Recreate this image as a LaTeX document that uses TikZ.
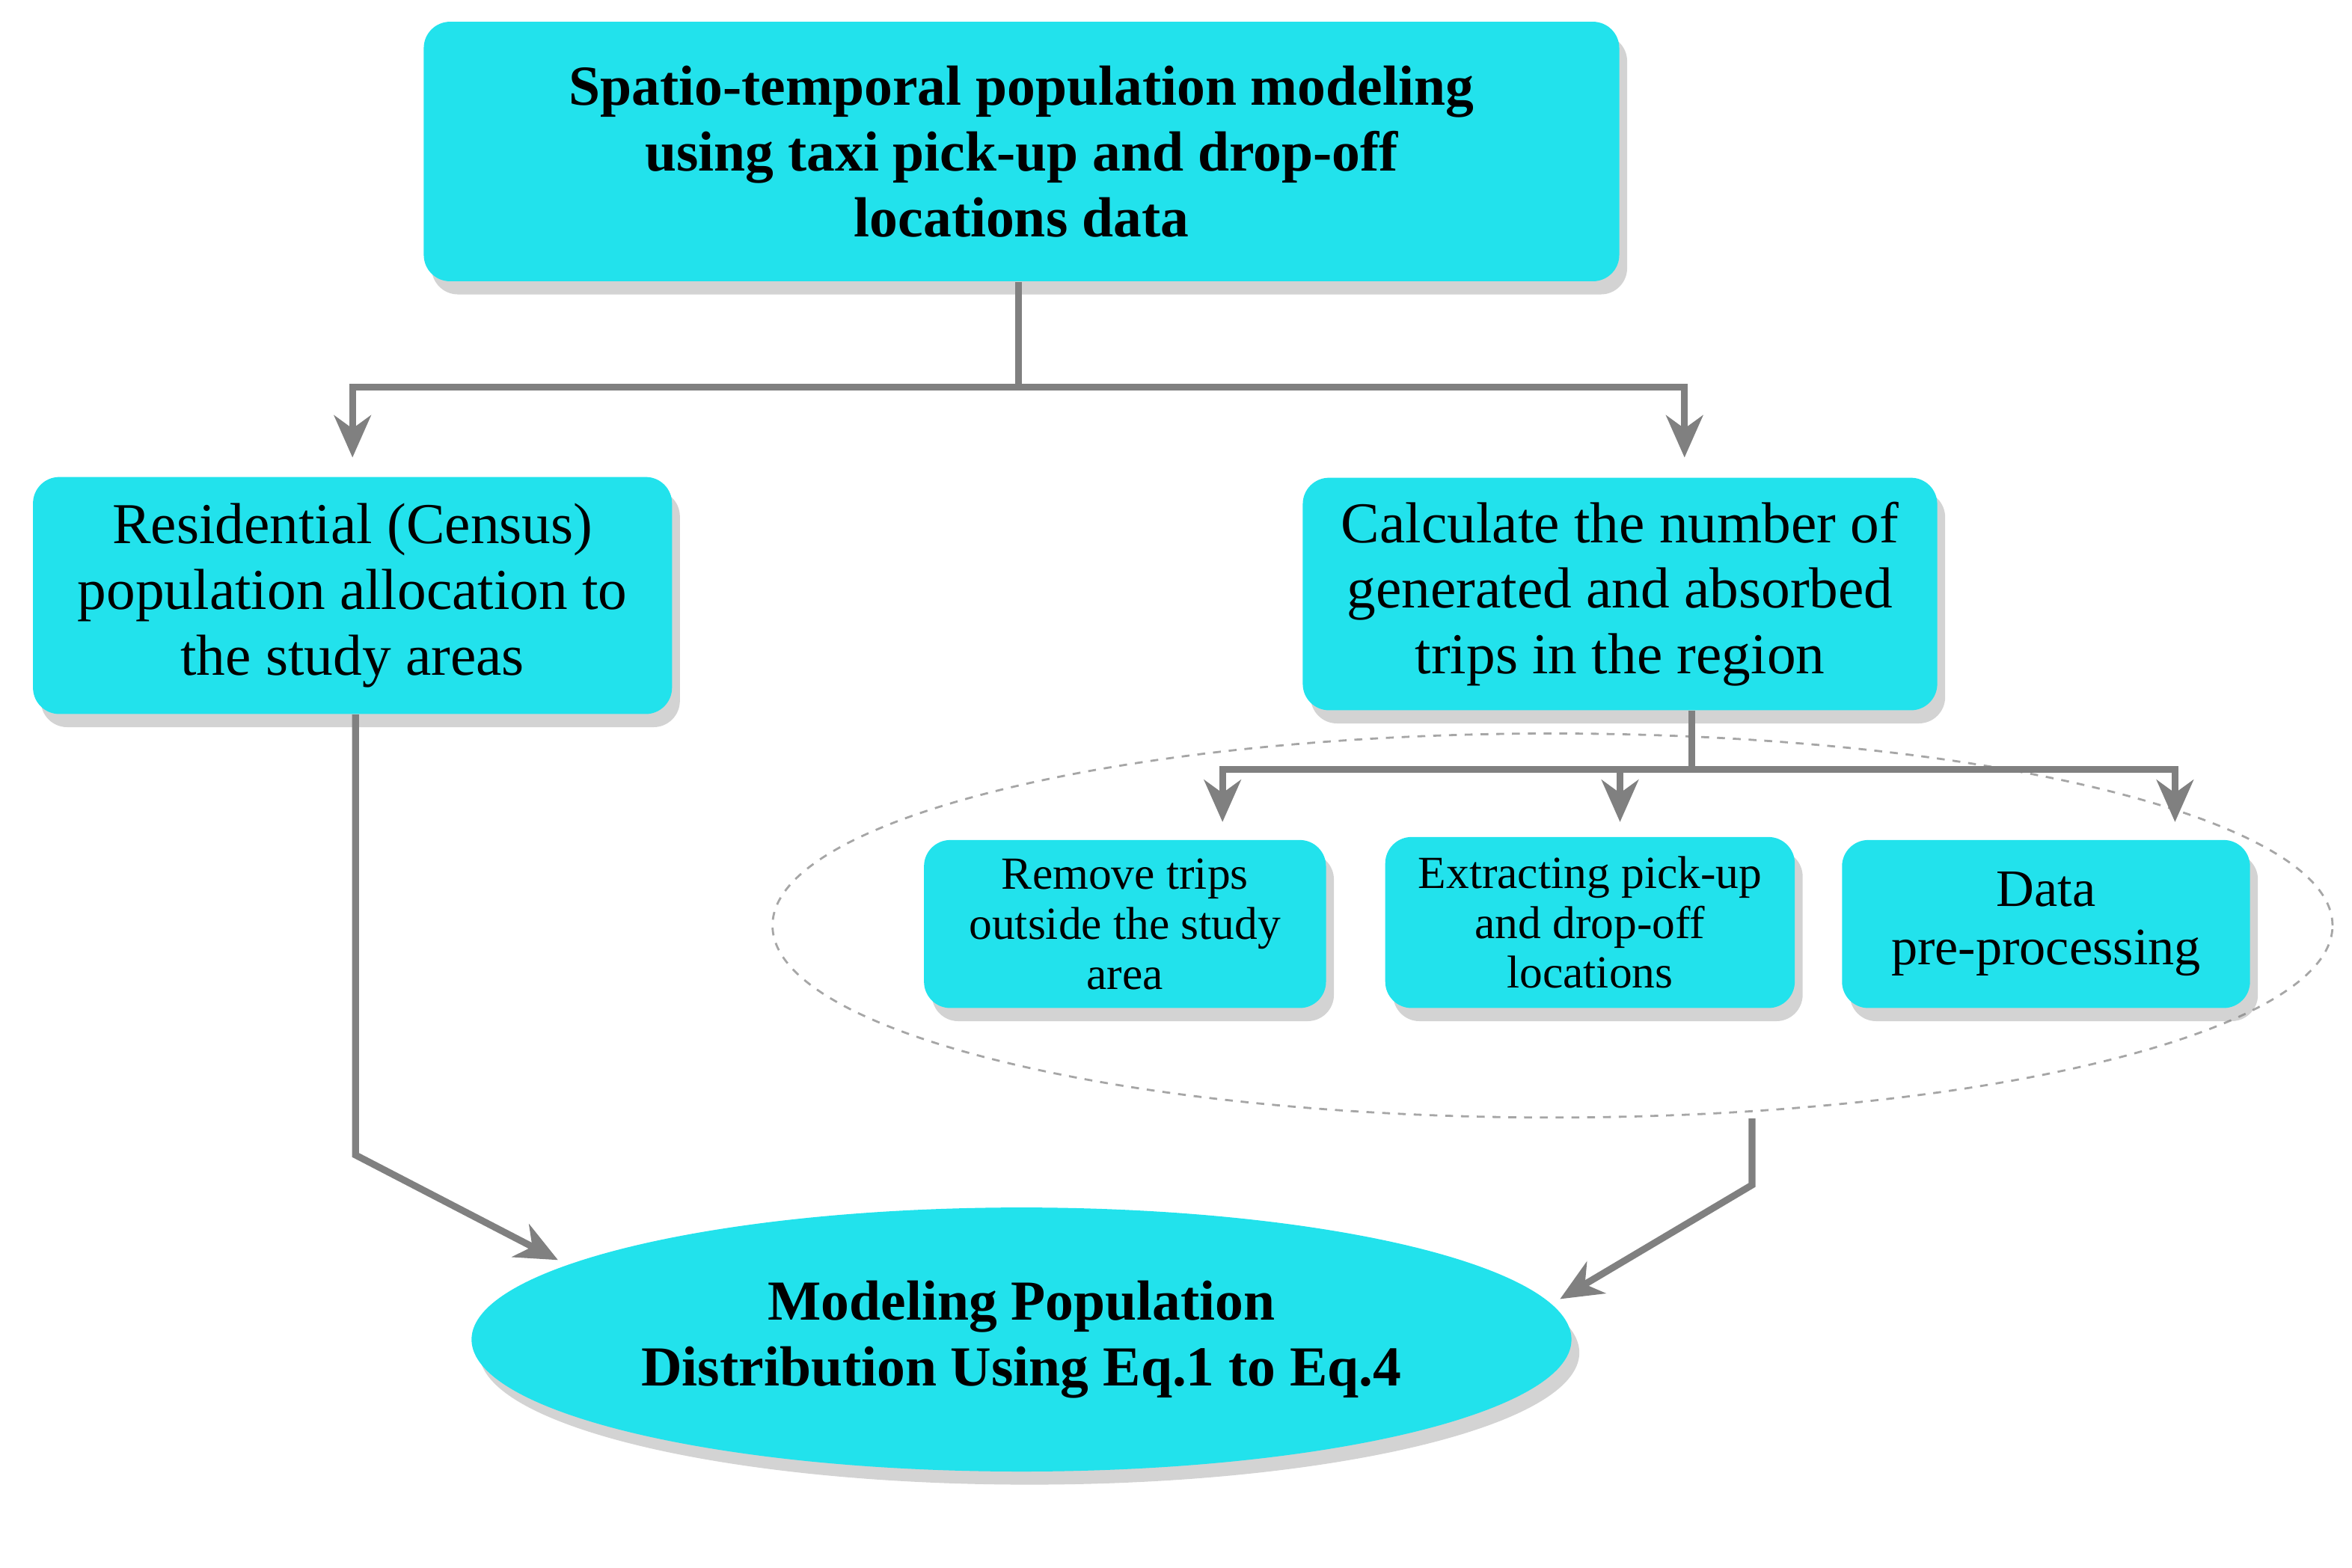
\documentclass[tikz,border=0pt]{standalone}
\usepackage{fontspec}
\setmainfont{Liberation Serif}
\usetikzlibrary{shapes.geometric,shadows,arrows.meta}
\definecolor{boxc}{HTML}{22E2EC}
\definecolor{linec}{HTML}{808080}
\begin{document}
\begin{tikzpicture}[x=0.02005cm,y=-0.02005cm,
  box/.style={draw=none,fill=boxc,rounded corners=10pt,align=center,
    drop shadow={shadow xshift=3pt,shadow yshift=-5pt,opacity=0.35},
    font=\fontsize{22}{25}\selectfont},
  sbox/.style={box,font=\fontsize{17.5}{19}\selectfont},
  conn/.style={draw=linec,line width=2.6pt},
  arr/.style={conn,-{Stealth[length=16pt,width=14pt,inset=5pt]}}]
\useasboundingbox (0,0) rectangle (1568,1045);
\node[box,minimum width=797*0.02005cm,minimum height=173*0.02005cm,font=\fontsize{21.5}{25}\selectfont\bfseries] (top) at (681,101)
  {Spatio-temporal population modeling\\using taxi pick-up and drop-off\\locations data};
\node[box,minimum width=426*0.02005cm,minimum height=158*0.02005cm] (left) at (235,397)
  {Residential (Census)\\population allocation to\\the study areas};
\node[box,minimum width=423*0.02005cm,minimum height=155*0.02005cm] (right) at (1080,396)
  {Calculate the number of\\generated and absorbed\\trips in the region};
\node[draw=gray!70,dashed,thick,ellipse,minimum width=1040*0.02005cm,minimum height=256*0.02005cm] (grp) at (1035,617) {};
\node[sbox,minimum width=268*0.02005cm,minimum height=112*0.02005cm] (s1) at (750,616)
  {Remove trips\\outside the study\\area};
\node[sbox,minimum width=273*0.02005cm,minimum height=114*0.02005cm] (s2) at (1060,615)
  {Extracting pick-up\\and drop-off\\locations};
\node[sbox,minimum width=272*0.02005cm,minimum height=112*0.02005cm,font=\fontsize{20}{22}\selectfont] (s3) at (1364,616)
  {Data\\pre-processing};
\node[box,ellipse,minimum width=730*0.02005cm,minimum height=176*0.02005cm,font=\fontsize{21.5}{25}\selectfont\bfseries] (bot) at (681,893)
  {Modeling Population\\Distribution Using Eq.1 to Eq.4};
\coordinate (j1) at (679,258);
\coordinate (j2) at (1128,513);
\draw[conn] (top.south -| j1) -- (j1);
\draw[arr] (j1) -- (235,258) -- (235,305);
\draw[arr] (j1) -- (1123,258) -- (1123,305);
\draw[conn] (right.south -| j2) -- (j2);
\draw[arr] (j2) -- (815,513) -- (815,548);
\draw[arr] (1080,513) -- (1080,548);
\draw[arr] (j2) -- (1450,513) -- (1450,548);
\draw[arr] (left.south -| 237,0) -- (237,770) -- (372,840);
\draw[arr] (grp.south -| 1168,0) -- (1168,790) -- (1040,866);
\end{tikzpicture}
\end{document}
